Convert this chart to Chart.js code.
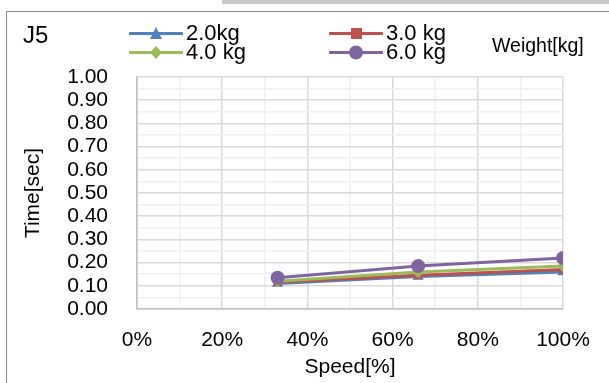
<!DOCTYPE html>
<html>
<head>
<meta charset="utf-8">
<script src="https://cdn.jsdelivr.net/npm/chart.js@4.4.1/dist/chart.umd.min.js"></script>
<style>
  html, body { margin: 0; padding: 0; background: #fff; }
  body { width: 609px; height: 383px; position: relative; overflow: hidden; font-family: 'Liberation Sans', Arial, sans-serif; color: #000; }
  #band { position: absolute; left: 222px; top: 0; width: 400px; height: 4px; background: #c8c8c8; }
  #frame { position: absolute; left: 6px; top: 11px; width: 620px; height: 400px; border: 1.5px solid #898989; box-sizing: border-box; }
  #chart { position: absolute; left: 0; top: 0; }
  .lbl { position: absolute; white-space: nowrap; line-height: 1; }
  .item { position: absolute; display: flex; align-items: center; font-size: 22px; line-height: 1; }
  .item svg { display: block; margin-right: 3px; }
</style>
</head>
<body>
<div id="band"></div>
<div id="frame"></div>
<canvas id="chart" width="609" height="383"></canvas>
<div class="lbl" style="left:23px; top:23px; font-size:24px;">J5</div>
<div class="lbl" style="left:492px; top:36px; font-size:19.5px;">Weight[kg]</div>
<div id="legend"></div>
<script>
// Time vs speed, J5 axis, one line per payload weight
const speeds = [33, 66, 100];
const weights = ['2.0kg', '3.0 kg', '4.0 kg', '6.0 kg'];
const time2kg = [0.11, 0.14, 0.16];
const time3kg = [0.115, 0.145, 0.17];
const time4kg = [0.12, 0.16, 0.185];
const time6kg = [0.135, 0.185, 0.22];
const colors = ['#4F81BD', '#C0504D', '#9BBB59', '#8064A2'];
const markers = ['triangle', 'rect', 'rectRot', 'circle'];
const markerSizes = [6.5, 5.5, 6, 7];
const xTicks = [0, 20, 40, 60, 80, 100];

const series = [time2kg, time3kg, time4kg, time6kg];

function legendIcon(i) {
  const c = colors[i];
  let m = '';
  if (i === 0) m = `<polygon points="27,3 33,15 21,15" fill="${c}"/>`;
  if (i === 1) m = `<rect x="22" y="4" width="11" height="11" fill="${c}"/>`;
  if (i === 2) m = `<polygon points="27,3 33,9.5 27,16 21,9.5" fill="${c}"/>`;
  if (i === 3) m = `<circle cx="27" cy="9.5" r="7" fill="${c}"/>`;
  return `<svg width="54" height="19"><line x1="1" y1="9.5" x2="53" y2="9.5" stroke="${c}" stroke-width="3" stroke-linecap="round"/>${m}</svg>`;
}

const legendPos = [[129, 22], [329, 22], [129, 41], [329, 41]];
document.getElementById('legend').innerHTML = weights.map((w, i) =>
  `<div class="item" style="left:${legendPos[i][0]}px; top:${legendPos[i][1]}px;">${legendIcon(i)}<span>${w}</span></div>`
).join('');

const isMajorY = (v) => Math.round(v * 100) % 10 === 0;

new Chart(document.getElementById('chart').getContext('2d'), {
  type: 'line',
  data: {
    datasets: series.map((vals, i) => ({
      label: weights[i],
      data: vals.map((y, j) => ({ x: speeds[j], y })),
      borderColor: colors[i],
      backgroundColor: colors[i],
      borderWidth: 3,
      pointStyle: markers[i],
      pointRadius: markerSizes[i],
      pointBorderWidth: 0,
      order: 3 - i,
      tension: 0
    }))
  },
  options: {
    responsive: false,
    animation: false,
    events: [],
    layout: { padding: { left: 21, top: 77, right: 46, bottom: 3 } },
    plugins: { legend: { display: false }, tooltip: { enabled: false } },
    scales: {
      x: {
        type: 'linear',
        min: 0,
        max: 100,
        afterFit: (s) => { s.height = 71; },
        afterBuildTicks: (s) => { s.ticks = []; for (let v = 0; v <= 100; v += 10) s.ticks.push({ value: v }); },
        ticks: {
          padding: 19,
          maxRotation: 0,
          autoSkip: false,
          color: '#000',
          font: { family: 'Liberation Sans', size: 21 },
          callback: (v) => xTicks.includes(v) ? v + '%' : ''
        },
        grid: {
          drawTicks: false,
          color: (ctx) => ctx.tick && ctx.tick.value % 20 === 0 ? '#d9d9d9' : '#f0f0f0',
          lineWidth: 1.5
        },
        border: { display: true, color: '#bfbfbf', width: 1.5 },
        title: {
          display: true,
          text: 'Speed[%]',
          color: '#000',
          font: { family: 'Liberation Sans', size: 21 },
          padding: 0
        }
      },
      y: {
        min: 0,
        max: 1,
        afterFit: (s) => { s.width = 116; },
        afterBuildTicks: (s) => { s.ticks = []; for (let k = 0; k <= 20; k++) s.ticks.push({ value: k / 20 }); },
        ticks: {
          padding: 29,
          autoSkip: false,
          color: '#000',
          font: { family: 'Liberation Sans', size: 21 },
          callback: (v) => isMajorY(v) ? v.toFixed(2) : ''
        },
        grid: {
          drawTicks: false,
          color: (ctx) => ctx.tick && isMajorY(ctx.tick.value) ? '#d9d9d9' : '#f0f0f0',
          lineWidth: 1.5
        },
        border: { display: true, color: '#bfbfbf', width: 1.5 },
        title: {
          display: true,
          text: 'Time[sec]',
          color: '#000',
          font: { family: 'Liberation Sans', size: 21 },
          padding: 0
        }
      }
    }
  }
});
</script>
</body>
</html>
